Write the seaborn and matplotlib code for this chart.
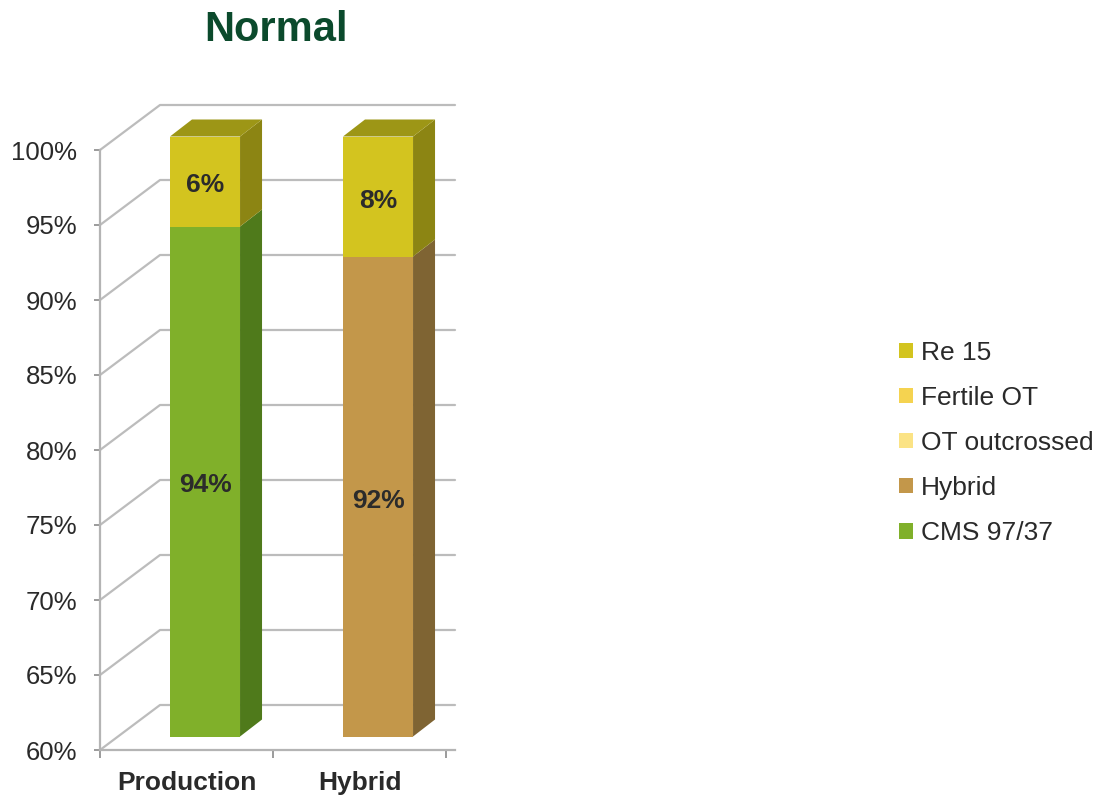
import matplotlib
matplotlib.use("Agg")
import matplotlib.pyplot as plt
import numpy as np
import pandas as pd
import seaborn as sns
from matplotlib.patches import Polygon, Patch
from matplotlib.lines import Line2D
from matplotlib.transforms import ScaledTranslation, IdentityTransform

# ---- data -------------------------------------------------------------
categories = ["Production", "Hybrid"]
series_names = ["CMS 97/37", "Hybrid", "OT outcrossed", "Fertile OT", "Re 15"]
cms_97_37 = [94, 0]
hybrid = [0, 92]
ot_outcrossed = [0, 0]
fertile_ot = [0, 0]
re_15 = [6, 8]
y_ticks = [60, 65, 70, 75, 80, 85, 90, 95, 100]
y_tick_labels = [f"{t}%" for t in y_ticks]

series_values = [cms_97_37, hybrid, ot_outcrossed, fertile_ot, re_15]

# ---- colours (front face, side face, top face) ------------------------
front_col = {"CMS 97/37": "#80b02a", "Hybrid": "#c3974a", "OT outcrossed": "#fbe385",
             "Fertile OT": "#f5d350", "Re 15": "#d3c41f"}
side_col = {"CMS 97/37": "#4f7a1b", "Hybrid": "#7f6433", "OT outcrossed": "#b0a05a",
            "Fertile OT": "#ab9338", "Re 15": "#8c8513"}
top_col = {"CMS 97/37": "#5f8c20", "Hybrid": "#977a3f", "OT outcrossed": "#c8b66a",
           "Fertile OT": "#c2a840", "Re 15": "#9d9616"}

sns.set_theme(style="white")
plt.rcParams["font.family"] = ["Liberation Sans", "DejaVu Sans"]

DPI = 100
fig = plt.figure(figsize=(10.96, 7.96), dpi=DPI)
ax = fig.add_axes([100 / 1096, 46 / 796, 355 / 1096, 600 / 796])
ax.set_facecolor("none")
ymin, ymax = 60, 100
ax.set_ylim(ymin, ymax)
ax.set_xlim(-0.5, 1.552)

# depth of the back wall and of each bar, in pixels
WALL_DX, WALL_DY = 60, 45
BAR_DX, BAR_DY = 22, 17
FRONT_SHIFT = (18.5, 13.5)
bar_tr = ax.transData + ScaledTranslation(FRONT_SHIFT[0] / DPI, FRONT_SHIFT[1] / DPI,
                                          fig.dpi_scale_trans)
label_tr = bar_tr + ScaledTranslation(0, -4 / DPI, fig.dpi_scale_trans)

grid_col = "#bcbcbc"

# ---- walls: side-wall diagonals and back-wall grid lines --------------
for t in y_ticks:
    fx, fy = ax.transData.transform((-0.5, t))
    right_px = ax.transData.transform((1.552, t))[0]
    ax.add_line(Line2D([fx, fx + WALL_DX, right_px], [fy, fy + WALL_DY, fy + WALL_DY],
                       transform=IdentityTransform(), color=grid_col, lw=1.6,
                       clip_on=False, zorder=0.5))

# ---- stacked bars ----------------------------------------------------
cum = np.zeros(len(categories))
segments = []
for name, vals in zip(series_names, series_values):
    vals = np.asarray(vals, dtype=float)
    df = pd.DataFrame({"category": categories, "value": cum + vals})
    n0 = len(ax.patches)
    sns.barplot(data=df, x="category", y="value", order=categories, color=front_col[name],
                width=0.405, saturation=1, linewidth=0, ax=ax, zorder=2)
    new = ax.patches[n0:]
    for i, p in enumerate(new):
        lo = max(cum[i], ymin)
        hi = cum[i] + vals[i]
        if vals[i] <= 0 or hi <= ymin:
            p.set_visible(False)
            continue
        p.set_y(lo)
        p.set_height(hi - lo)
        p.set_transform(bar_tr)
        p.set_clip_on(False)
        segments.append((name, i, p, vals[i]))
    cum = cum + vals
ax.set_ylim(ymin, ymax)
ax.set_xlim(-0.5, 1.552)

tops = {}
for name, i, p, v in segments:
    x0, y0 = p.get_x(), p.get_y()
    x1, y1 = x0 + p.get_width(), y0 + p.get_height()
    (px0, py0), (px1, py1) = bar_tr.transform([(x0, y0), (x1, y1)])
    side = Polygon([(px1, py0), (px1 + BAR_DX, py0 + BAR_DY), (px1 + BAR_DX, py1 + BAR_DY),
                    (px1, py1)], closed=True, transform=IdentityTransform(),
                   facecolor=side_col[name], edgecolor="none", clip_on=False, zorder=2)
    ax.add_patch(side)
    tops[i] = (name, px0, px1, py1)
    cx = (x0 + x1) / 2
    cy = (y0 + y1) / 2
    ax.text(cx, cy, f"{v:.0f}%", transform=label_tr, ha="center", va="center",
            fontsize=19, fontweight="bold", color="#2b2b2b", zorder=5)

for i, (name, px0, px1, py1) in tops.items():
    top = Polygon([(px0, py1), (px1, py1), (px1 + BAR_DX, py1 + BAR_DY), (px0 + BAR_DX, py1 + BAR_DY)],
                  closed=True, transform=IdentityTransform(), facecolor=top_col[name],
                  edgecolor="none", clip_on=False, zorder=2)
    ax.add_patch(top)

# ---- axes -------------------------------------------------------------
for s in ["top", "right"]:
    ax.spines[s].set_visible(False)
for s in ["left", "bottom"]:
    ax.spines[s].set_color("#b4b4b4")
    ax.spines[s].set_linewidth(1.6)
    ax.spines[s].set_zorder(1)

ax.set_yticks(y_ticks)
ax.set_yticklabels(y_tick_labels)
ax.tick_params(axis="y", which="major", left=True, length=4, width=1.2, color="#8a8a8a",
               pad=12.5, labelsize=18.5, labelcolor="#2a2a2a")
ax.set_xticks(range(len(categories)))
ax.set_xticklabels(categories, fontweight="bold")
ax.set_xticks([-0.5, 0.5, 1.5], minor=True)
ax.tick_params(axis="x", which="major", bottom=False, length=0, pad=15, labelsize=19,
               labelcolor="#2a2a2a")
ax.tick_params(axis="x", which="minor", bottom=True, length=5.5, width=1.2, color="#8a8a8a")
ax.set_xlabel("")
ax.set_ylabel("")
ax.grid(False)

# ---- title and legend -------------------------------------------------
fig.text(276 / 1096, 1 - 30 / 796, "Normal", ha="center", va="center", fontsize=30,
         fontweight="bold", color="#0b4a2c")

handles = [Patch(facecolor=front_col[n], edgecolor="none", label=n) for n in reversed(series_names)]
fig.legend(handles=handles, loc="center left", bbox_to_anchor=(899 / 1096, 1 - 443 / 796),
           frameon=False, fontsize=19, handlelength=0.52, handleheight=0.52,
           handletextpad=0.32, labelspacing=0.8, borderpad=0, borderaxespad=0,
           labelcolor="#2a2a2a")

fig.savefig("out.png", dpi=DPI)
